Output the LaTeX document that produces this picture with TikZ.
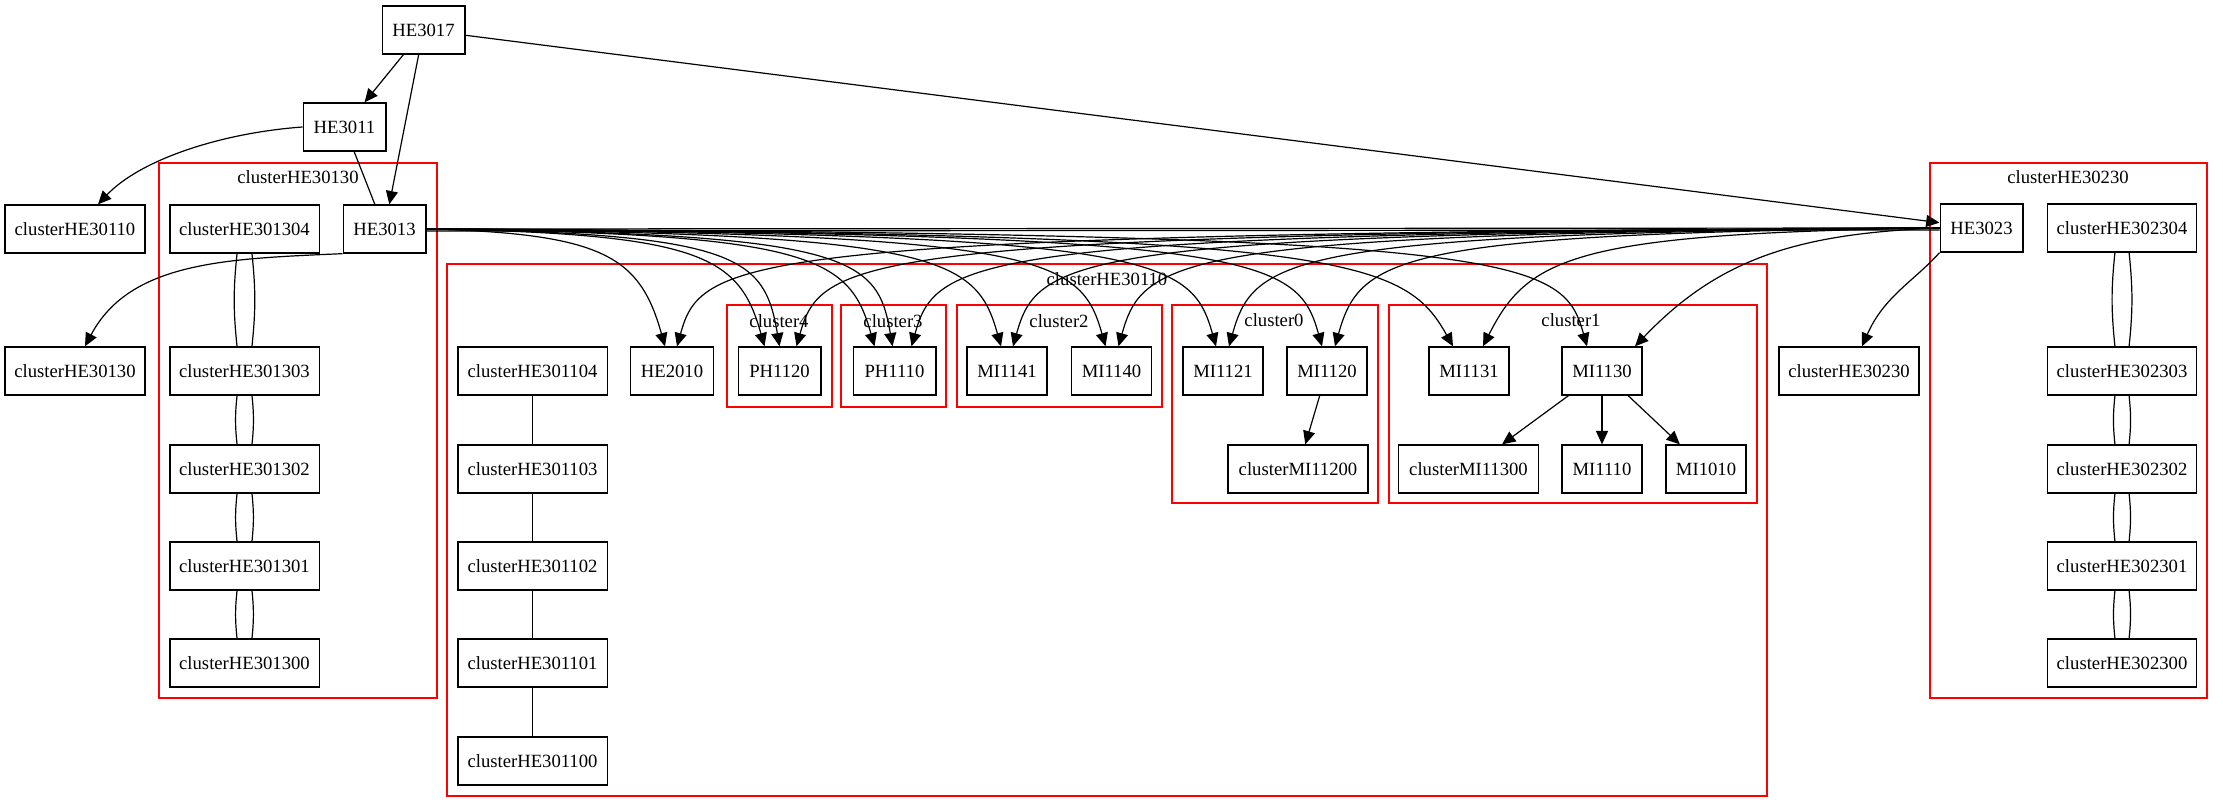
\documentclass[tikz,border=0pt]{standalone}
\usepackage{fontspec}
\setmainfont{Liberation Serif}
\usepackage{tikz}
\usetikzlibrary{arrows.meta,calc}

\begin{document}
\begin{tikzpicture}[x=0.75pt,y=-0.75pt,>={Triangle[length=10pt,width=9pt]},
  font=\fontsize{14}{16}\selectfont,
  box/.style={draw,line width=1pt,inner sep=0pt,minimum height=36pt,minimum width=62pt},
  mbox/.style={box,minimum width=60pt},
  wbox/.style={box,minimum width=105pt},
  xbox/.style={box,minimum width=112pt},
  clu/.style={draw=red,line width=1pt},
  ln/.style={line width=0.9pt},
  arr/.style={ln,->}]
  \useasboundingbox (0,0) rectangle (2223,812);
  % cluster frames
  \draw[clu] (159,163) rectangle (437,698);
  \node (lHE30130) at (298,177) {clusterHE30130};
  \draw[clu] (447,264) rectangle (1767,796);
  \node (lHE30110) at (1107,279) {clusterHE30110};
  \draw[clu] (727,305) rectangle (832,407);
  \node (l4) at (779,321) {cluster4};
  \draw[clu] (841,305) rectangle (946,407);
  \node (l3) at (893,321) {cluster3};
  \draw[clu] (957,305) rectangle (1162,407);
  \node (l2) at (1059,321) {cluster2};
  \draw[clu] (1172,305) rectangle (1378,503);
  \node (l0) at (1274,320) {cluster0};
  \draw[clu] (1389,305) rectangle (1757,503);
  \node (l1) at (1571,320) {cluster1};
  \draw[clu] (1930,163) rectangle (2207,698);
  \node (lHE30230) at (2068,177) {clusterHE30230};

  % top of the tree
  \node[box] (HE3017) at (423.5,30) {HE3017};
  \node[box] (HE3011) at (344.5,127) {HE3011};
  \node[box] (HE3013) at (384.5,229) {HE3013};
  \node[wbox] (c30110) at (75,229) {clusterHE30110};
  \node[wbox] (c30130) at (75,371) {clusterHE30130};
  \foreach \n/\y in {4/229,3/371,2/469,1/566,0/663}
    \node[xbox] (c30130\n) at (244.5,\y) {clusterHE30130\n};

  % courses
  \node[box] (HE2010) at (672,371) {HE2010};
  \node[box] (PH1120) at (779.5,371) {PH1120};
  \node[box] (PH1110) at (894.5,371) {PH1110};
  \node[mbox] (MI1141) at (1007,371) {MI1141};
  \node[mbox] (MI1140) at (1111.5,371) {MI1140};
  \node[mbox] (MI1121) at (1223,371) {MI1121};
  \node[mbox] (MI1120) at (1327,371) {MI1120};
  \node[wbox] (cMI11200) at (1298,469) {clusterMI11200};
  \node[mbox] (MI1131) at (1469,371) {MI1131};
  \node[mbox] (MI1130) at (1602,371) {MI1130};
  \node[wbox] (cMI11300) at (1468.5,469) {clusterMI11300};
  \node[mbox] (MI1110) at (1602,469) {MI1110};
  \node[mbox] (MI1010) at (1706,469) {MI1010};
  \foreach \n/\y in {4/371,3/469,2/566,1/663,0/761}
    \node[xbox] (c30110\n) at (532.5,\y) {clusterHE30110\n};

  % right hand side
  \node[box] (HE3023) at (1981.5,228) {HE3023};
  \node[wbox] (c30230) at (1849,371) {clusterHE30230};
  \foreach \n/\y in {4/228,3/371,2/469,1/566,0/663}
    \node[xbox] (c30230\n) at (2122,\y) {clusterHE30230\n};

  % edges
  \draw[arr] (HE3017) -- (HE3011);
  \draw[arr] (HE3017) -- (HE3013);
  \draw[arr] (HE3017) -- (HE3023);
  \draw[ln] (HE3011) -- (HE3013);
  \draw[arr] (HE3011.west) .. controls (220,133) and (140,160) .. ($(c30110.north)+(23,0)$);
  \draw[arr] (HE3013.south west) .. controls +(-115,5) and +(45,-85) .. ($(c30130.north)+(10,0)$);
  \draw[arr] (HE3023.south west) .. controls +(-25,28) and +(22,-50) .. ($(c30230.north)+(13,0)$);
  \draw[ln] (HE3013.east) -- (HE3023.west);
  \draw[ln] ([yshift=-1.5pt]HE3013.east) -- ([yshift=-1.5pt]HE3023.west);
  \foreach \t/\s/\a/\b in {HE2010/-7/-60/-25,PH1120/-15/-60/-25,PH1120/0/-40/-15,
      PH1110/-20/-60/-25,PH1110/-2/-40/-15,MI1141/-6/-60/-25,MI1140/-6/-60/-25,
      MI1121/-7/-60/-25,MI1120/-5/-60/-25,MI1131/-16/-110/-50,MI1130/-15/-60/-25}
    \draw[arr] (HE3013.east) .. controls ($(\t.north)+(\s+\a,-113)$)
      and ($(\t.north)+(\s+\b,-89)$) .. ($(\t.north)+(\s,0)$);
  \foreach \t/\s/\a/\b in {HE2010/5/60/25,PH1120/17/60/25,PH1110/17/60/25,
      MI1141/6/60/25,MI1140/7/60/25,MI1121/6/60/25,MI1120/8/60/25,
      MI1131/14/90/45,MI1130/33/165/85}
    \draw[arr] (HE3023.west) .. controls ($(\t.north)+(\s+\a,-113)$)
      and ($(\t.north)+(\s+\b,-89)$) .. ($(\t.north)+(\s,0)$);
  \draw[arr] (MI1120) -- (cMI11200);
  \draw[arr] (MI1130) -- (cMI11300);
  \draw[arr] (MI1130) -- (MI1110);
  \draw[arr] (MI1130) -- (MI1010);
  \foreach \a/\b in {4/3,3/2,2/1,1/0} {
    \draw[ln] (c30110\a) -- (c30110\b);
    \draw[ln] ([xshift=-5.6pt]c30130\a.south) to[bend right=6] ([xshift=-5.6pt]c30130\b.north);
    \draw[ln] ([xshift=5.6pt]c30130\a.south) to[bend left=6] ([xshift=5.6pt]c30130\b.north);
    \draw[ln] ([xshift=-5.3pt]c30230\a.south) to[bend right=6] ([xshift=-5.3pt]c30230\b.north);
    \draw[ln] ([xshift=5.3pt]c30230\a.south) to[bend left=6] ([xshift=5.3pt]c30230\b.north);
  }
\end{tikzpicture}
\end{document}
